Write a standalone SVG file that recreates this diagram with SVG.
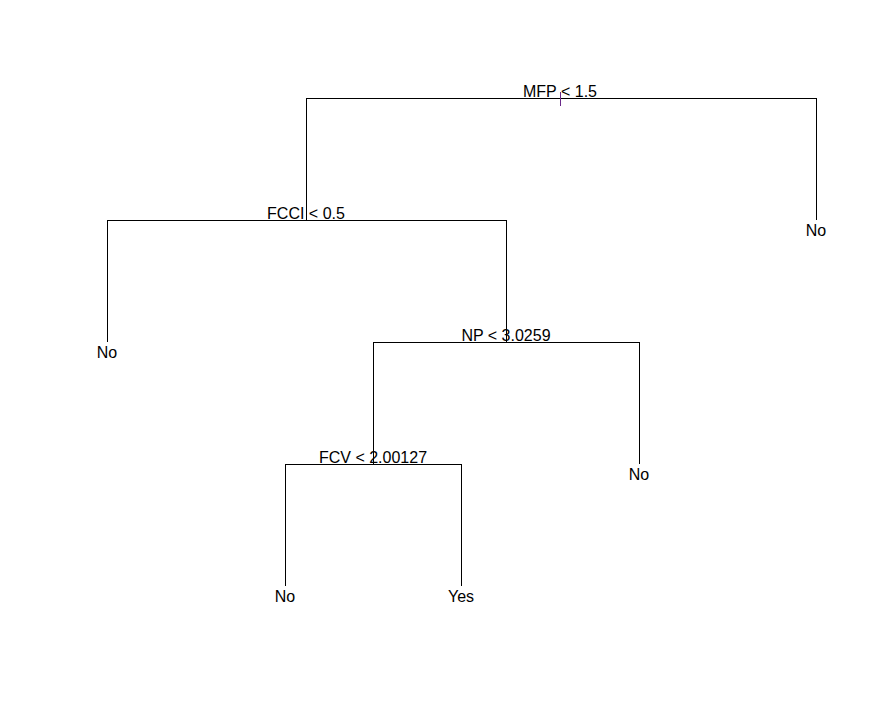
<svg xmlns="http://www.w3.org/2000/svg" width="885" height="705" viewBox="0 0 885 705">
  <style>
    .edge { stroke: #000; stroke-width: 1; fill: none; shape-rendering: crispEdges; }
    .lbl { font-family: "Liberation Sans", Arial, sans-serif; font-size: 16px; fill: #000; text-anchor: middle; }
  </style>
  <rect width="885" height="705" fill="#fff"/>
  <g id="connectors">
    <!-- MFP split -->
    <path class="edge" d="M306.5 220V98.5H816.5V220"/>
    <!-- FCCI split -->
    <path class="edge" d="M107.5 342V220.5H506.5V342"/>
    <!-- NP split -->
    <path class="edge" d="M373.5 464V342.5H639.5V464"/>
    <!-- FCV split -->
    <path class="edge" d="M285.5 586V464.5H461.5V586"/>
    <!-- root marker -->
    <line x1="560.5" y1="92" x2="560.5" y2="106" stroke="#6a2a8a" stroke-width="1" shape-rendering="crispEdges"/>
  </g>
  <g id="node-mfp"><text class="lbl" x="560" y="97">MFP &lt; 1.5</text></g>
  <g id="node-fcci"><text class="lbl" x="306" y="219">FCCI &lt; 0.5</text></g>
  <g id="node-np"><text class="lbl" x="506" y="341">NP &lt; 3.0259</text></g>
  <g id="node-fcv"><text class="lbl" x="373" y="463">FCV &lt; 2.00127</text></g>
  <g id="leaf-root-right"><text class="lbl" x="816" y="236">No</text></g>
  <g id="leaf-fcci-left"><text class="lbl" x="107" y="358">No</text></g>
  <g id="leaf-np-right"><text class="lbl" x="639" y="480">No</text></g>
  <g id="leaf-fcv-left"><text class="lbl" x="285" y="602">No</text></g>
  <g id="leaf-fcv-right"><text class="lbl" x="461" y="602">Yes</text></g>
</svg>
